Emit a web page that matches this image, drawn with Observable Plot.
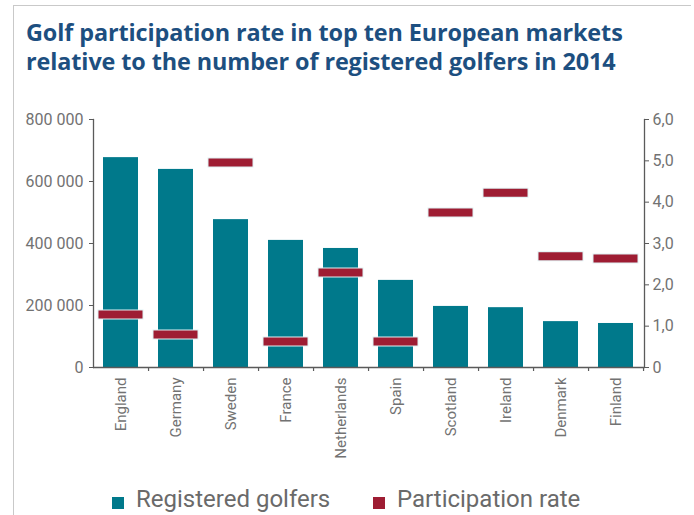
<!DOCTYPE html>
<html>
<head>
<meta charset="utf-8">
<script src="https://cdn.jsdelivr.net/npm/d3@7"></script>
<script src="https://cdn.jsdelivr.net/npm/@observablehq/plot@0.6"></script>
<style>
  html, body { margin: 0; padding: 0; background: #fff; }
  #wrap { position: relative; width: 694px; height: 515px; overflow: hidden; }
  #border { position: absolute; left: 13px; top: 5px; width: 677px; height: 520px;
            border-top: 1px solid #c9c9c9; border-left: 1px solid #c9c9c9; }
  #title { position: absolute; left: 26px; top: 18px; margin: 0;
           font-family: "Open Sans", sans-serif; font-weight: 700; font-size: 23.4px;
           line-height: 29px; color: #1d4f80; letter-spacing: -0.1px; white-space: nowrap; }
  #chart { position: absolute; left: 0; top: 100px; }
  #legend { position: absolute; top: 481px; left: 0; width: 694px;
            font-family: Roboto, sans-serif; font-size: 24px; color: #6a6a6a; font-weight: 400; }
  .item { position: absolute; top: 0; white-space: nowrap; }
  .sw { position: absolute; width: 12px; height: 12px; top: 16px; }
  .lab { position: absolute; left: 24px; top: 0; line-height: 36px; }
</style>
</head>
<body>
<div id="wrap">
  <div id="border"></div>
  <div id="title">Golf participation rate in top ten European markets<br>relative to the number of registered golfers in 2014</div>
  <div id="chart"></div>
  <div id="legend"></div>
</div>
<script>
const countries = ["England","Germany","Sweden","France","Netherlands","Spain","Scotland","Ireland","Denmark","Finland"];
const registeredGolfers = [677000, 639000, 477000, 410000, 384000, 281000, 197000, 193000, 148000, 142000];
const participationRate = [1.28, 0.80, 4.96, 0.63, 2.30, 0.63, 3.75, 4.23, 2.69, 2.64];
const leftTicks = [0, 200000, 400000, 600000, 800000];
const rightTicks = [0, 1, 2, 3, 4, 5, 6];
const seriesNames = ["Registered golfers", "Participation rate"];
const seriesColors = ["#00798b", "#9e1d33"];

const leftMax = 800000, rightMax = 6;
const k = leftMax / rightMax;

const data = countries.map((c, i) => ({country: c, golfers: registeredGolfers[i], rate: participationRate[i]}));

const W = 694, H = 370, mL = 93, mR = 50;
const step = (W - mL - mR) / countries.length;
const axisColor = "#5a5a5a";
const labelColor = "#727272";
const tickFont = "Roboto, sans-serif";

const fmtLeft = d => d === 0 ? "0" : d3.format(",")(d).replace(/,/g, " ");
const fmtRight = d => d === 0 ? "0" : (d / k).toFixed(1).replace(".", ",");

const chart = Plot.plot({
  width: W,
  height: H,
  marginTop: 19,
  marginBottom: 103,
  marginLeft: mL,
  marginRight: mR,
  style: {fontFamily: tickFont, fontSize: "15px", color: labelColor, background: "transparent"},
  x: {domain: countries, paddingInner: 0.36, paddingOuter: 0.18, axis: null},
  y: {domain: [0, leftMax], axis: null},
  marks: [
    Plot.barY(data, {x: "country", y: "golfers", fill: seriesColors[0]}),
    Plot.tickY(data, {x: "country", y: d => d.rate * k, stroke: "#dff1f3", strokeWidth: 10, insetLeft: -5.5, insetRight: -5.5}),
    Plot.tickY(data, {x: "country", y: d => d.rate * k, stroke: seriesColors[1], strokeWidth: 8, insetLeft: -4.5, insetRight: -4.5}),
    Plot.ruleY([0], {stroke: axisColor, strokeWidth: 1.3}),
    Plot.frame({anchor: "left", stroke: axisColor, strokeWidth: 1.3}),
    Plot.frame({anchor: "right", stroke: axisColor, strokeWidth: 1.3}),
    Plot.ruleX(countries, {x: d => d, dx: step / 2, y1: 0, y2: 0, insetTop: 4, stroke: axisColor, strokeWidth: 1.2}),
    Plot.axisY({anchor: "left", label: null, ticks: leftTicks, tickFormat: fmtLeft, tickSize: 4, tickPadding: 6, stroke: axisColor, fill: labelColor, fontSize: 16}),
    Plot.axisY({anchor: "right", label: null, ticks: rightTicks.map(d => d * k), tickFormat: fmtRight, tickSize: 4, tickPadding: 4, stroke: axisColor, fill: labelColor, fontSize: 16}),
    Plot.axisX({anchor: "bottom", label: null, tickSize: 0, tickPadding: 10, tickRotate: -90, fill: labelColor, fontSize: 15})
  ]
});
document.getElementById("chart").appendChild(chart);

const legend = d3.select("#legend");
const legendX = [112, 373];
seriesNames.forEach((name, i) => {
  const item = legend.append("div").attr("class", "item").style("left", legendX[i] + "px");
  item.append("div").attr("class", "sw").style("background", seriesColors[i]);
  item.append("div").attr("class", "lab").text(name);
});
</script>
</body>
</html>
